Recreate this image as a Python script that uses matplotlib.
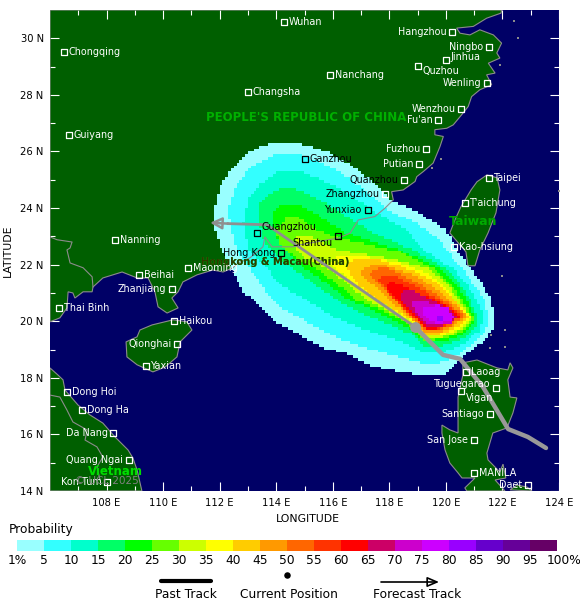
import numpy as np
import matplotlib
matplotlib.use("Agg")
import matplotlib.pyplot as plt
from matplotlib.colors import ListedColormap
from matplotlib.patches import Polygon, Rectangle
from matplotlib.path import Path
from matplotlib.transforms import ScaledTranslation

plt.rcParams['font.family'] = 'DejaVu Sans'

# ── probability bands (lon, lat outlines) ───────────────────────────
prob_levels = ["1%", "5", "10", "15", "20", "25", "30", "35", "40", "45", "50",
               "55", "60", "65", "70", "75", "80", "85", "90", "95", "100%"]
prob_colors = ["#99FFFF", "#33FFFF", "#00FFCC", "#00FF66", "#00FF00", "#66FF00", "#CCFF00",
               "#FFFF00", "#FFCC00", "#FF9900", "#FF6600", "#FF3300", "#FF0000", "#CC0066",
               "#CC00CC", "#CC00FF", "#9900FF", "#6600CC", "#660099", "#660066"]

band_01 = [(113.83,26.30),(114.71,26.32),(115.77,26.0),(116.71,25.48),(117.54,24.83),(118.12,24.24),(119.06,23.83),(120.0,23.24),(120.38,22.52),(120.91,21.81),(121.26,21.34),(121.55,20.87),(121.73,20.2),(121.67,19.75),(121.38,19.33),(120.91,18.98),(120.55,18.69),(120.0,18.12),(119.0,18.12),(117.9,18.3),(117.31,18.45),(116.49,18.86),(115.54,19.1),(114.84,19.51),(114.13,19.86),(113.55,20.4),(112.84,21.05),(112.54,21.64),(112.12,22.42),(111.85,23.24),(111.8,23.95),(112.01,24.77),(112.48,25.48),(113.06,26.0)]
band_05 = [(113.95,25.89),(114.71,25.92),(115.65,25.59),(116.48,25.12),(117.3,24.48),(118.0,23.89),(118.95,23.48),(119.77,22.89),(120.2,22.3),(120.62,21.81),(121.03,21.22),(121.38,20.75),(121.5,20.2),(121.44,19.75),(121.14,19.4),(120.73,19.04),(120.32,18.75),(119.73,18.51),(119.26,18.51),(118.73,18.63),(117.67,18.92),(116.49,19.27),(115.31,19.86),(114.13,20.51),(113.78,20.85),(113.13,21.76),(112.6,22.47),(112.37,23.41),(112.3,23.95),(112.54,24.71),(113.06,25.42)]
band_10 = [(114.12,25.3),(114.83,25.3),(115.65,25.0),(116.6,24.48),(117.54,23.83),(118.6,23.24),(119.2,22.52),(120.32,21.81),(120.79,21.22),(121.09,20.75),(121.32,20.2),(121.2,19.69),(120.79,19.33),(120.32,19.04),(119.73,18.86),(119.26,18.86),(118.73,19.16),(117.2,19.69),(116.02,20.16),(115.07,20.75),(114.13,21.28),(113.66,21.88),(113.02,22.58),(112.84,23.41),(113.0,24.3),(113.48,24.89)]
band_15 = [(114.12,24.65),(114.71,24.65),(115.42,24.36),(116.48,23.71),(117.42,23.12),(118.85,22.52),(120.09,21.81),(120.56,21.22),(120.85,20.75),(121.17,20.1),(121.05,19.81),(120.79,19.51),(120.32,19.28),(119.73,19.1),(119.26,19.1),(118.73,19.57),(117.31,20.16),(116.25,20.69),(115.31,21.34),(114.66,21.81),(114.14,22.17),(113.6,22.7),(113.43,23.41),(113.42,24.18),(113.77,24.48)]
band_20 = [(114.24,24.12),(114.71,24.12),(115.42,23.77),(116.48,23.12),(117.42,22.8),(118.4,22.52),(119.85,21.81),(120.38,21.28),(120.73,20.75),(121.06,20.1),(120.97,19.87),(120.72,19.63),(120.32,19.39),(119.73,19.28),(119.26,19.25),(118.73,19.75),(117.67,20.28),(116.49,20.81),(115.78,21.34),(115.07,21.81),(114.49,22.41),(114.08,22.82),(113.9,23.41),(113.95,23.95)]
band_25 = [(114.38,23.69),(114.83,23.65),(115.42,23.24),(116.36,22.9),(117.3,22.7),(118.38,22.45),(119.6,21.87),(120.2,21.28),(120.62,20.69),(121.0,20.1),(120.91,19.92),(120.67,19.72),(120.32,19.49),(119.73,19.36),(119.26,19.33),(118.73,19.86),(117.67,20.4),(116.84,20.75),(116.13,21.34),(115.49,21.81),(115.06,22.0),(114.48,22.4),(114.12,22.77),(114.0,23.24)]
band_30 = [(114.71,23.0),(115.3,22.95),(116.24,22.5),(117.18,22.35),(118.1,22.2),(119.38,21.87),(120.03,21.34),(120.5,20.69),(120.93,20.1),(120.85,19.96),(120.61,19.78),(120.32,19.56),(119.73,19.42),(119.26,19.39),(118.73,19.92),(118.02,20.34),(117.2,20.75),(116.49,21.34),(115.9,21.81),(115.06,22.2),(114.65,22.65)]
band_35 = [(116.2,22.3),(117.06,22.3),(118.38,22.05),(119.2,21.75),(119.85,21.34),(120.38,20.69),(120.85,20.15),(120.77,20.01),(120.58,19.84),(120.32,19.63),(119.73,19.48),(119.26,19.45),(118.73,20.04),(118.14,20.4),(117.43,20.81),(116.72,21.34),(116.16,21.81),(115.85,22.05)]
band_40 = [(116.48,22.1),(116.83,22.2),(117.5,22.2),(118.38,21.95),(119.03,21.7),(119.67,21.34),(120.26,20.75),(120.79,20.2),(120.72,20.05),(120.53,19.9),(120.26,19.7),(119.73,19.54),(119.26,19.51),(118.73,20.1),(117.67,20.69),(116.96,21.22),(116.6,21.65)]
band_45 = [(116.96,21.73),(117.25,21.95),(117.7,22.0),(118.38,21.8),(118.91,21.6),(119.55,21.22),(120.14,20.75),(120.73,20.2),(120.65,20.07),(120.46,19.96),(120.2,19.77),(119.73,19.6),(119.26,19.6),(118.7,20.15),(118.0,20.75),(117.4,21.3)]
band_50 = [(117.28,21.63),(117.55,21.85),(118.0,21.85),(118.38,21.65),(118.79,21.45),(119.44,21.1),(120.03,20.69),(120.65,20.2),(120.58,20.1),(120.4,20.02),(120.14,19.84),(119.73,19.65),(119.26,19.65),(118.8,20.15),(118.2,20.7),(117.6,21.3)]
band_55 = [(117.6,21.45),(117.85,21.65),(118.25,21.6),(118.73,21.34),(119.38,20.99),(119.97,20.63),(120.58,20.2),(120.5,20.1),(120.3,20.05),(120.05,19.9),(119.73,19.69),(119.3,19.7),(118.9,20.1),(118.3,20.65),(117.85,21.15)]
band_60 = [(117.85,21.2),(118.1,21.4),(118.67,21.16),(119.32,20.87),(119.91,20.58),(120.5,20.2),(120.42,20.1),(120.2,20.0),(119.95,19.88),(119.73,19.74),(119.3,19.75),(119.0,20.1),(118.5,20.55),(118.05,20.95)]
band_65 = [(118.36,21.0),(118.65,21.15),(119.06,20.95),(119.54,20.72),(120.1,20.45),(120.41,20.15),(120.2,19.95),(119.73,19.8),(119.3,19.85),(118.9,20.2),(118.6,20.55),(118.4,20.8)]
band_70 = [(118.8,20.74),(119.1,20.74),(119.54,20.6),(120.0,20.42),(120.34,20.15),(120.15,19.95),(119.75,19.85),(119.4,19.88),(119.1,20.1),(118.85,20.45)]
band_75 = [(119.2,20.45),(119.73,20.57),(120.08,20.45),(120.28,20.16),(120.14,19.98),(119.73,19.92),(119.38,20.04),(119.2,20.22)]
band_80a = [(119.7,20.03),(119.8,20.03),(119.8,20.22),(119.7,20.22)]
band_80b = [(119.83,20.03),(119.93,20.03),(119.93,20.22),(119.83,20.22)]

# ── land ────────────────────────────────────────────────────────────
china_coast = [(106,31),(121.97,31.0),(121.95,30.89),(121.44,30.71),(120.97,30.42),(120.38,30.36),(120.5,30.18),(120.85,30.12),(121.2,30.3),(121.68,30.12),(121.97,29.83),(121.8,29.48),(121.91,29.3),(121.5,29.12),(121.74,28.77),(121.44,28.71),(121.62,28.36),(121.2,28.18),(120.91,27.94),(120.79,27.59),(120.56,27.3),(120.26,26.94),(120.03,26.82),(119.61,26.77),(119.61,26.59),(119.91,26.53),(119.79,26.17),(119.67,25.88),(119.55,25.59),(119.2,25.29),(118.97,25.11),(118.91,24.94),(118.49,24.64),(118.08,24.58),(118.14,24.29),(117.85,24.0),(117.49,23.7),(116.9,23.58),(116.61,23.11),(116.19,22.94),(114.84,22.7),(114.59,22.63),(114.13,22.63),(113.85,22.63),(113.6,22.98),(113.53,22.63),(113.07,22.24),(112.65,22.06),(112.47,21.89),(112.12,21.74),(111.76,21.81),(111.2,21.64),(110.7,21.39),(110.53,21.04),(110.31,20.82),(110.53,20.47),(110.14,20.29),(109.82,20.51),(109.71,21.04),(109.47,21.53),(109.08,21.53),(108.55,21.74),(107.87,21.53),(107.52,21.21),(107.49,21.04),(107.17,21.04),(106.88,20.82),(106.81,21.0),(106.64,21.04),(106.6,20.47),(106.35,20.12),(106,19.98)]
vietnam_coast = [(106,18.35),(106.28,18.1),(106.46,17.93),(106.53,17.57),(106.99,17.04),(107.41,16.69),(107.87,16.4),(108.3,15.91),(108.76,15.45),(108.93,15.17),(109.08,14.74),(109.25,14),(106,14)]
hainan_coast = [(109.18,19.69),(109.61,19.87),(110.35,20.05),(110.84,19.98),(111.02,19.69),(110.6,19.27),(110.49,18.74),(110.07,18.38),(109.64,18.21),(109.08,18.46),(108.72,18.74),(108.69,19.27),(109.08,19.45)]
taiwan_coast = [(121.1,24.93),(121.45,25.17),(121.81,25.07),(121.91,24.64),(121.77,23.83),(121.49,23.12),(121.2,22.52),(121.03,21.96),(120.78,21.96),(120.71,22.45),(120.14,23.12),(120.32,23.58),(120.53,24.04),(120.89,24.64)]
luzon_coast = [(120.6,18.53),(121.1,18.63),(121.81,18.35),(122.19,18.28),(122.27,18.53),(122.37,18.35),(122.19,17.93),(122.27,17.32),(122.51,17.29),(122.37,16.76),(122.16,16.23),(121.66,16.05),(121.45,15.34),(121.49,15.1),(121.91,14.67),(122.02,14.95),(122.12,14.46),(121.74,14.39),(122.09,14),(120.74,14),(120.67,14.11),(121.03,14.46),(120.57,14.46),(120.43,14.64),(120.14,14.99),(119.97,15.45),(119.86,16.05),(119.86,16.33),(120.14,16.16),(120.43,16.05),(120.43,17.32),(120.6,18.1)]
daet_coast = [(122.27,14.04),(122.51,14.21),(122.87,14.14),(123.04,14)]
border_china_vietnam = [(106,22.98),(106.25,22.88),(106.78,22.8),(106.71,22.59),(106.6,22.52),(106.71,22.06),(107.17,21.89),(107.49,21.57),(107.52,21.21)]
border_vietnam_laos = [(106,17.39),(106.35,17.32),(106.6,16.86),(106.81,16.44),(107.31,16.16),(107.24,15.8),(107.66,15.56),(107.87,15.2),(107.66,14.85),(107.77,14.39)]
islet_lon = [121.91, 119.84, 119.52, 124.0, 122.4, 122.55, 121.99, 122.09, 121.59, 122.09, 121.56]
islet_lat = [29.05, 25.75, 25.4, 24.6, 30.6, 30.0, 21.6, 19.7, 19.5, 19.1, 19.05]

# ── tracks ──────────────────────────────────────────────────────────
past_lon = [123.54, 122.9, 122.2, 121.31, 120.5, 119.9, 118.91]
past_lat = [15.52, 15.91, 16.19, 17.68, 18.67, 18.81, 19.8]
forecast_lon = [118.91, 113.67, 112.3]
forecast_lat = [19.8, 23.41, 23.45]
arrow_tip = (111.66, 23.48)

# ── cities ──────────────────────────────────────────────────────────
city_names = ["Wuhan","Hangzhou","Ningbo","Jinhua","Quzhou","Wenling","Wenzhou","Fu'an","Fuzhou","Putian","Quanzhou","Zhangzhou","Yunxiao","Taipei","T'aichung","Kao-hsiung","Nanchang","Changsha","Chongqing","Guiyang","Ganzhou","Nanning","Guangzhou","Shantou","Hong Kong","Maoming","Beihai","Zhanjiang","Thai Binh","Haikou","Qionghai","Yaxian","Dong Hoi","Dong Ha","Da Nang","Quang Ngai","Kon Tum","Laoag","Tuguegarao","Vigan","Santiago","San Jose","MANILA","Daet"]
city_lon = [114.27,120.21,121.52,120.0,119.01,121.45,120.53,119.72,119.3,119.05,118.52,117.85,117.24,121.52,120.67,120.29,115.9,113.0,106.5,106.67,115.02,108.3,113.32,116.18,114.17,110.88,109.15,110.31,106.32,110.38,110.49,109.39,106.6,107.13,108.23,108.79,108.02,120.71,121.77,120.53,121.56,120.99,120.99,122.9]
city_lat = [30.58,30.23,29.7,29.24,29.03,28.43,27.51,27.12,26.09,25.56,25.0,24.5,23.94,25.07,24.18,22.63,28.71,28.11,29.52,26.59,25.74,22.88,23.12,23.02,22.42,21.89,21.64,21.14,20.47,20.01,19.2,18.42,17.5,16.86,16.05,15.1,14.32,18.21,17.64,17.54,16.72,15.8,14.64,14.21]
labels_left = ["Hangzhou","Ningbo","Wenling","Wenzhou","Fu'an","Fuzhou","Putian","Quanzhou","Zhangzhou","Yunxiao","Shantou","Hong Kong","Zhanjiang","Qionghai","Da Nang","Quang Ngai","Kon Tum","Tuguegarao","Santiago","San Jose","Daet"]
labels_black = ["Ganzhou","Quanzhou","Zhangzhou","Yunxiao","Guangzhou","Shantou","Hong Kong"]
markers_black = ["Ganzhou","Yunxiao","Guangzhou","Shantou","Hong Kong"]
label_shift = {"Jinhua": 2, "Quzhou": -4, "Guangzhou": 4, "Shantou": -5, "Vigan": -5, "Tuguegarao": 3}

x_major = [108, 110, 112, 114, 116, 118, 120, 122, 124]
y_major = [14, 16, 18, 20, 22, 24, 26, 28, 30]

LAND = "#005F00"
SEA = "#000066"
COAST = "#8C8C8C"

fig = plt.figure(figsize=(5.8, 6.1), dpi=100)
ax = fig.add_axes([50/580, 119/610, 509/580, 481/610], facecolor=SEA)
ax.set_xlim(106, 124)
ax.set_ylim(14, 31)

for coast in [china_coast, vietnam_coast, hainan_coast, taiwan_coast, luzon_coast, daet_coast]:
    ax.add_patch(Polygon(coast, closed=True, fc=LAND, ec="none", zorder=1))

# probability field on a 0.1 degree grid, that's why the edges look blocky
bands = [band_01, band_05, band_10, band_15, band_20, band_25, band_30, band_35, band_40,
         band_45, band_50, band_55, band_60, band_65, band_70, band_75]
lon_edges = np.arange(106, 124.01, 0.1)
lat_edges = np.arange(14, 31.01, 0.1)
lon_c, lat_c = np.meshgrid(lon_edges[:-1] + 0.05, lat_edges[:-1] + 0.05)
pts = np.column_stack([lon_c.ravel(), lat_c.ravel()])
field = np.full(lon_c.shape, -1)
for i, b in enumerate(bands):
    field[Path(b).contains_points(pts).reshape(lon_c.shape)] = i
for b in [band_80a, band_80b]:
    field[Path(b).contains_points(pts).reshape(lon_c.shape)] = 16
cmap = ListedColormap(prob_colors)
ax.pcolormesh(lon_edges, lat_edges, np.ma.masked_less(field, 0), cmap=cmap, vmin=-0.5, vmax=19.5,
              shading="flat", antialiased=False, zorder=2)

for coast in [china_coast, vietnam_coast, hainan_coast, taiwan_coast, luzon_coast, daet_coast]:
    ax.add_patch(Polygon(coast, closed=True, fc="none", ec=COAST, lw=0.8, zorder=3))
for line in [border_china_vietnam, border_vietnam_laos]:
    arr = np.array(line)
    ax.plot(arr[:, 0], arr[:, 1], color=COAST, lw=0.8, zorder=3)
ax.scatter(islet_lon, islet_lat, s=3, marker="s", color=COAST, linewidths=0, zorder=3)

# tracks
ax.plot(forecast_lon, forecast_lat, color="#8F8F8F", lw=2, zorder=6)
ax.annotate("", xy=arrow_tip, xytext=(forecast_lon[-1], forecast_lat[-1]), zorder=6,
            arrowprops=dict(arrowstyle="-|>,head_length=0.7,head_width=0.35", fc="none", ec="#8F8F8F", lw=1.8,
                            shrinkA=0, shrinkB=0))
ax.plot(past_lon, past_lat, color="#999999", lw=3.2, solid_capstyle="round", zorder=6)
ax.scatter(past_lon[-1], past_lat[-1], s=60, color="#999999", linewidths=0, zorder=7)

# cities
for name, lon, lat in zip(city_names, city_lon, city_lat):
    mc = "black" if name in markers_black else "white"
    tc = "black" if name in labels_black else "white"
    ax.scatter(lon, lat, s=20, marker="s", facecolors="none", edgecolors=mc, linewidths=0.9, zorder=8)
    left = name in labels_left
    ax.annotate(name, (lon, lat), xytext=(-4 if left else 3.5, label_shift.get(name, 0)),
                textcoords="offset points", ha="right" if left else "left", va="center",
                fontsize=6.9, color=tc, zorder=9)

# region names
ax.text(115.05, 27.2, "PEOPLE'S REPUBLIC OF CHINA", color="#00B000", fontsize=8.5, fontweight="bold",
        ha="center", va="center", zorder=5)
ax.text(120.95, 23.53, "Taiwan", color="#00AA00", fontsize=9, fontweight="bold", ha="center", va="center", zorder=5)
ax.text(108.3, 14.7, "Vietnam", color="#00DD00", fontsize=8.5, fontweight="bold", ha="center", va="center", zorder=5)
ax.text(108.0, 14.37, "© UCL 2025", color="#808080", fontsize=7.5, ha="center", va="center", zorder=10)
hk_green = ax.text(113.98, 22.1, "Hongkong & Macau(China)", color="#00C000", fontsize=7.1, fontweight="bold",
                   ha="center", va="center", zorder=5)
hk_dark = ax.text(113.98, 22.1, "Hongkong & Macau(China)", color="#2E3A00", fontsize=7.1, fontweight="bold",
                  ha="center", va="center", zorder=5)
hk_green.set_clip_path(Rectangle((106, 14), 6.0, 17, transform=ax.transData))
hk_dark.set_clip_path(Rectangle((112.0, 14), 8, 17, transform=ax.transData))

ax.set_xticks(x_major)
ax.set_xticks(np.arange(107, 124, 2), minor=True)
ax.set_yticks(y_major)
ax.set_yticks(np.arange(15, 31, 2), minor=True)
ax.set_xticklabels([f"{v} E" for v in x_major], fontsize=7.2)
ax.set_yticklabels([f"{v} N" for v in y_major], fontsize=7.2)
ax.tick_params(which="major", direction="in", color="white", length=6.2, width=0.8, top=True, right=True)
ax.tick_params(axis="x", which="major", pad=5)
ax.tick_params(axis="y", which="major", pad=4.5)
ax.tick_params(which="minor", direction="in", color="white", length=3.6, width=0.8, top=True, right=True)
for s in ax.spines.values():
    s.set_visible(False)
ax.set_xlabel("LONGITUDE", fontsize=7.8, labelpad=4, x=0.507)
ax.set_ylabel("LATITUDE", fontsize=7.8, labelpad=5.5)

# colour scale
cax = fig.add_axes([17/580, (610-551)/610, 540/580, 11/610])
cax.bar(np.arange(20), np.ones(20), width=1, align="edge", color=prob_colors)
cax.set_xlim(0, 20)
cax.set_ylim(0, 1)
cax.set_xticks(np.arange(21))
cax.set_xticklabels(prob_levels, fontsize=8.8)
cax.set_yticks([])
cax.tick_params(length=0, pad=2)
last = cax.get_xticklabels()[-1]
last.set_transform(last.get_transform() + ScaledTranslation(7/100, 0, fig.dpi_scale_trans))
for s in cax.spines.values():
    s.set_visible(False)
fig.text(9/580, 1-530/610, "Probability", fontsize=8.8, va="center")

# legend strip, in figure pixels
leg = fig.add_axes([0, 0, 1, 1], facecolor="none")
leg.set_xlim(0, 580)
leg.set_ylim(610, 0)
leg.axis("off")
leg.plot([161, 211], [581, 581], color="black", lw=3, solid_capstyle="round")
leg.scatter(287, 575, s=22, color="black", linewidths=0)
leg.annotate("", xy=(439, 582), xytext=(381, 582),
             arrowprops=dict(arrowstyle="-|>,head_length=0.7,head_width=0.3", fc="none", ec="black", lw=1.2,
                             shrinkA=0, shrinkB=0))
leg.text(186, 594, "Past Track", fontsize=8.8, ha="center", va="center")
leg.text(289, 594, "Current Position", fontsize=8.8, ha="center", va="center")
leg.text(417, 594, "Forecast Track", fontsize=8.8, ha="center", va="center")

fig.savefig("out.png", dpi=100)
